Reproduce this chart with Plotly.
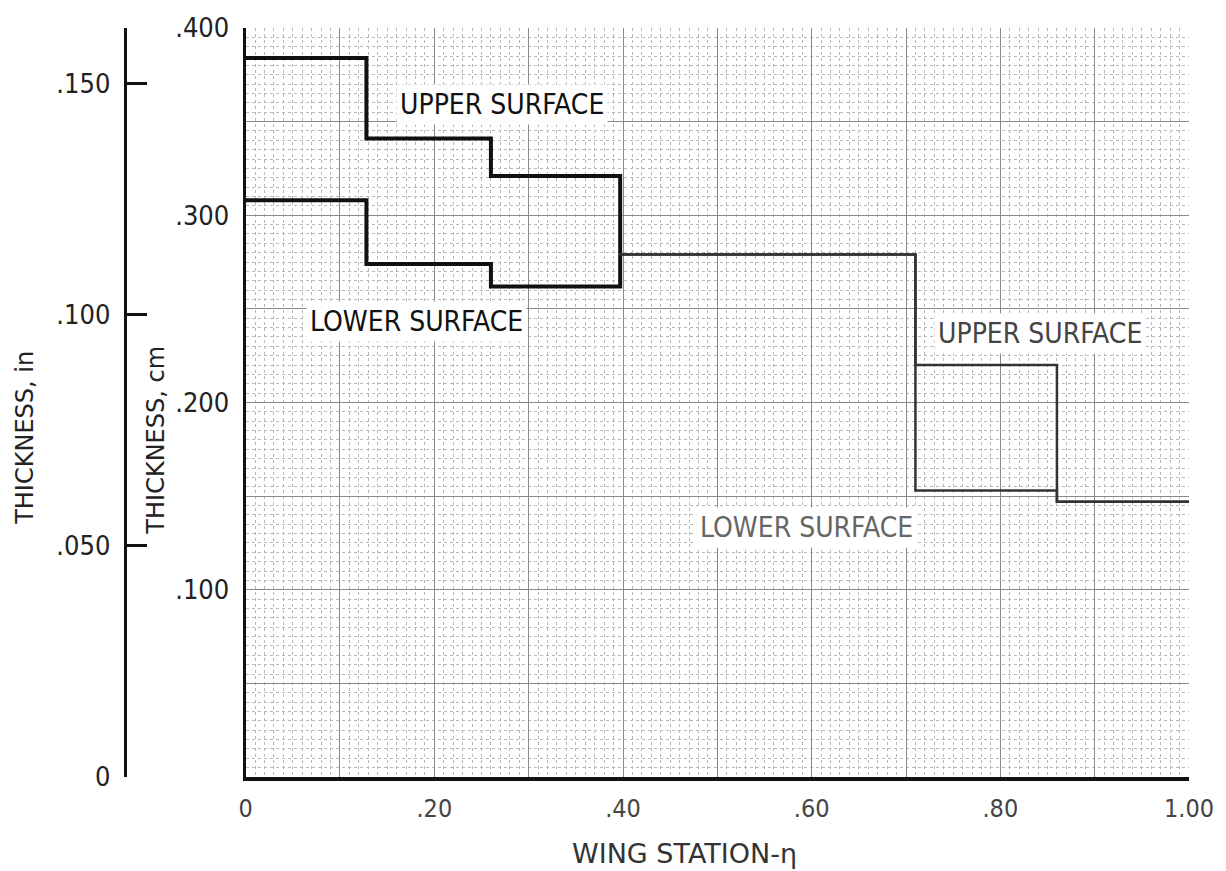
import plotly.graph_objects as go

# ---- data ----
station_breaks = [0.0, 0.128, 0.26, 0.397, 0.71, 0.86, 1.0]
upper_cm = [0.384, 0.341, 0.321, 0.279, 0.220, 0.147]
lower_cm = [0.308, 0.274, 0.262, 0.279, 0.153, 0.147]

x_tickvals = [0.0, 0.1, 0.2, 0.3, 0.4, 0.5, 0.6, 0.7, 0.8, 0.9, 1.0]
x_ticktext = ["0", "", ".20", "", ".40", "", ".60", "", ".80", "", "1.00"]
cm_tickvals = [0.0, 0.05, 0.10, 0.15, 0.20, 0.25, 0.30, 0.35, 0.40]
cm_ticktext = ["", "", ".100", "", ".200", "", ".300", "", ".400"]
in_tickvals = [0.0, 0.05, 0.10, 0.15]
in_ticktext = ["0", ".050", ".100", ".150"]

labels = [
    ("UPPER SURFACE", 0.272, 0.359, "#111111"),
    ("LOWER SURFACE", 0.181, 0.243, "#111111"),
    ("UPPER SURFACE", 0.842, 0.237, "#444444"),
    ("LOWER SURFACE", 0.594, 0.133, "#666666"),
]

x_title = "WING STATION-η"
cm_title = "THICKNESS, cm"
in_title = "THICKNESS, in"

FONT = "Liberation Sans Narrow, DejaVu Sans Condensed, Arial Narrow, sans-serif"
TITLE_FONT = "DejaVu Sans, sans-serif"

split = 3  # station index where the drawing changes from heavy to light pen

fig = go.Figure()

for vals in (upper_cm, lower_cm):
    xs = station_breaks[0:split + 1]
    ys = vals[0:split + 1]
    fig.add_trace(go.Scatter(x=xs, y=ys, mode="lines", line_shape="hv",
                             line=dict(color="#111111", width=4),
                             showlegend=False, hoverinfo="skip"))
    xs = station_breaks[split:]
    ys = vals[split:] + [vals[-1]]
    fig.add_trace(go.Scatter(x=xs, y=ys, mode="lines", line_shape="hv",
                             line=dict(color="#333333", width=2.5),
                             showlegend=False, hoverinfo="skip"))

# invisible trace to carry the inch axis
fig.add_trace(go.Scatter(x=[0], y=[0], yaxis="y2", mode="markers",
                         marker=dict(opacity=0), showlegend=False, hoverinfo="skip"))

for text, x, y, col in labels:
    fig.add_annotation(x=x, y=y, text=text, showarrow=False,
                       font=dict(family=FONT, size=28, color=col),
                       bgcolor="white", borderpad=3)

W, H = 1226, 871
L, R, T, B = 100, 27, 21, 94
plot_w = W - L - R
plot_h = H - T - B
x0_px = 247
dom0 = (x0_px - L) / plot_w
in_axis_pos = (125 - L) / plot_w


def px_x(px):
    return (px - L) / plot_w


def px_y(py):
    return (H - B - py) / plot_h


# axis titles placed as annotations (paper coordinates)
fig.add_annotation(xref="paper", yref="paper", x=px_x(24), y=px_y(435),
                   xanchor="center", yanchor="middle",
                   text=in_title, textangle=-90, showarrow=False,
                   font=dict(family=TITLE_FONT, size=24, color="#222222"))
fig.add_annotation(xref="paper", yref="paper", x=px_x(157), y=px_y(437),
                   xanchor="center", yanchor="middle",
                   text=cm_title, textangle=-90, showarrow=False,
                   font=dict(family=TITLE_FONT, size=24, color="#222222"))
fig.add_annotation(xref="paper", yref="paper", x=px_x(690), y=px_y(854),
                   xanchor="center", yanchor="middle",
                   text=x_title, showarrow=False,
                   font=dict(family=TITLE_FONT, size=27, color="#333333"))

fig.update_layout(
    width=W, height=H,
    margin=dict(l=L, r=R, t=T, b=B),
    paper_bgcolor="white", plot_bgcolor="white",
    font=dict(family=FONT, size=24, color="#222222"),
    xaxis=dict(
        domain=[dom0, 1.0], range=[0, 1.0],
        tickmode="array", tickvals=x_tickvals, ticktext=x_ticktext,
        ticks="", showline=True, linecolor="#111111", linewidth=4,
        showgrid=True, gridcolor="#8a8a8a", gridwidth=1,
        zeroline=False, mirror=False,
        tickfont=dict(size=25, color="#444444"),
        ticklabelstandoff=6,
        minor=dict(tickmode="linear", tick0=0, dtick=0.01, showgrid=True,
                   gridcolor="#b8b8b8", gridwidth=1, griddash="dot", ticks=""),
    ),
    yaxis=dict(
        range=[0, 0.40],
        tickmode="array", tickvals=cm_tickvals, ticktext=cm_ticktext,
        ticks="", showline=True, linecolor="#111111", linewidth=3,
        showgrid=True, gridcolor="#8a8a8a", gridwidth=1,
        zeroline=False,
        tickfont=dict(size=27, color="#222222"),
        ticklabelstandoff=8,
        minor=dict(tickmode="linear", tick0=0, dtick=0.005, showgrid=True,
                   gridcolor="#b8b8b8", gridwidth=1, griddash="dot", ticks=""),
    ),
    yaxis2=dict(
        overlaying="y", anchor="free", position=in_axis_pos, side="left",
        range=[0, 0.162],
        tickmode="array", tickvals=in_tickvals, ticktext=in_ticktext,
        ticks="inside", ticklen=20, tickwidth=3, tickcolor="#111111",
        showline=True, linecolor="#111111", linewidth=3,
        showgrid=False, zeroline=False,
        tickfont=dict(size=27, color="#222222"),
        ticklabelstandoff=8,
    ),
)

fig.write_html("out.html")
